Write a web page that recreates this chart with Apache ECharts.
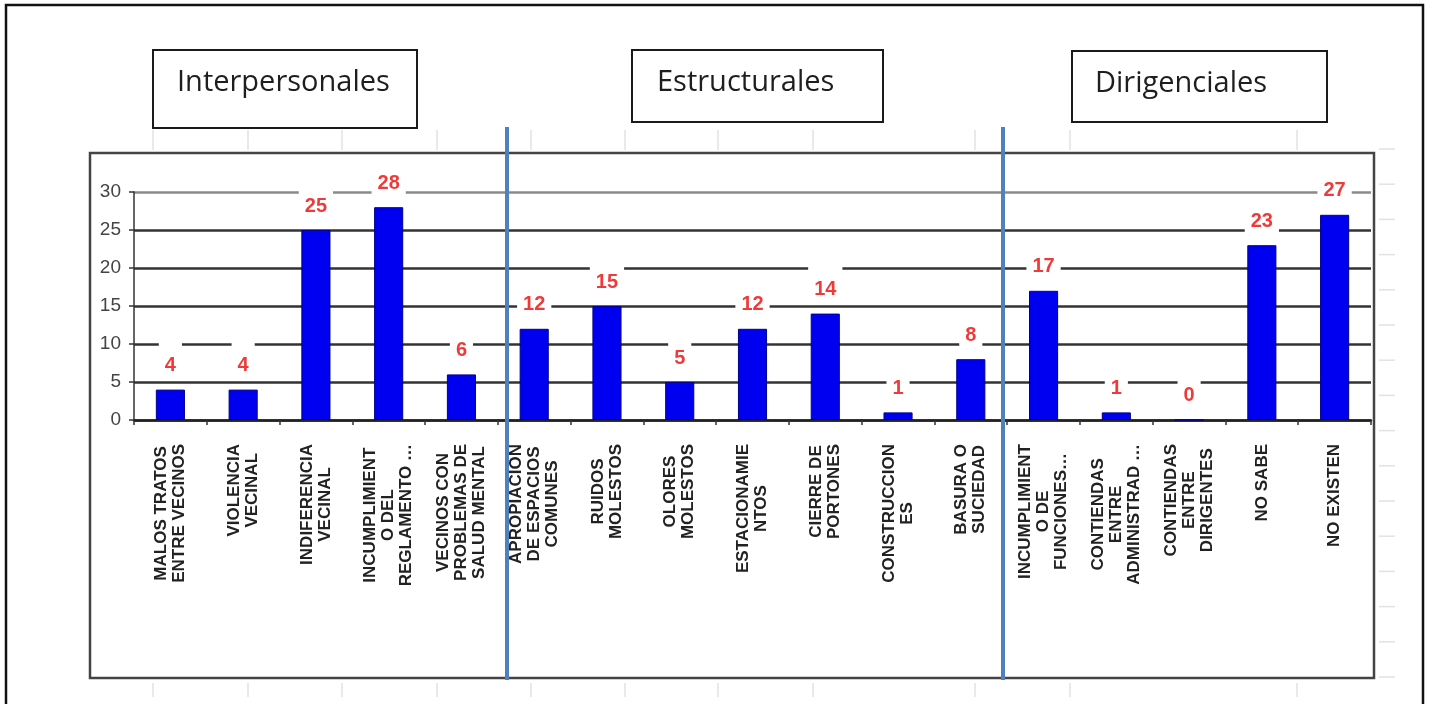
<!DOCTYPE html>
<html>
<head>
<meta charset="utf-8">
<script src="https://cdn.jsdelivr.net/npm/echarts@6.0.0/dist/echarts.min.js"></script>
<style>
  html, body { margin: 0; padding: 0; background: #ffffff; }
  #chart { width: 1429px; height: 704px; }
</style>
</head>
<body>
<div id="chart"></div>
<script>
// Conflict types, grouped in three families (5 + 7 + 5 categories)
const categories = [
  'MALOS TRATOS\nENTRE VECINOS',
  'VIOLENCIA\nVECINAL',
  'INDIFERENCIA\nVECINAL',
  'INCUMPLIMIENT\nO DEL\nREGLAMENTO …',
  'VECINOS CON\nPROBLEMAS DE\nSALUD MENTAL',
  'APROPIACION\nDE ESPACIOS\nCOMUNES',
  'RUIDOS\nMOLESTOS',
  'OLORES\nMOLESTOS',
  'ESTACIONAMIE\nNTOS',
  'CIERRE DE\nPORTONES',
  'CONSTRUCCION\nES',
  'BASURA O\nSUCIEDAD',
  'INCUMPLIMIENT\nO DE\nFUNCIONES…',
  'CONTIENDAS\nENTRE\nADMINISTRAD …',
  'CONTIENDAS\nENTRE\nDIRIGENTES',
  'NO SABE',
  'NO EXISTEN'
];

// Number of mentions for each conflict type
const counts = [4, 4, 25, 28, 6, 12, 15, 5, 12, 14, 1, 8, 17, 1, 0, 23, 27];

// Value axis range
const yMin = 0;
const yMax = 30;
const yStep = 5;

// Family headings shown above the plot
const groupTitles = ['Interpersonales', 'Estructurales', 'Dirigenciales'];

const chart = echarts.init(document.getElementById('chart'), null, { renderer: 'canvas' });

const labelFont = "'Liberation Sans', Arial, sans-serif";
const narrowFont = "'Liberation Sans Narrow', 'Arial Narrow', 'Liberation Sans', Arial, sans-serif";
const titleFont = "'Open Sans', 'Noto Sans', sans-serif";

// Heading boxes
const titleBoxes = [
  { x: 153, y: 50, w: 264, h: 78, tx: 177 },
  { x: 632, y: 50, w: 251, h: 72, tx: 657 },
  { x: 1072, y: 51, w: 255, h: 71, tx: 1095 }
];

const graphics = [];

// Outer page frame
graphics.push({
  type: 'rect', z: 50,
  shape: { x: 6, y: 5, width: 1417, height: 720 },
  style: { fill: 'none', stroke: '#111', lineWidth: 2.5 }
});

// Chart frame
graphics.push({
  type: 'rect', z: 50,
  shape: { x: 90, y: 153, width: 1284, height: 525 },
  style: { fill: 'none', stroke: '#444', lineWidth: 2.5 }
});

// Faint layout ticks around the chart frame
[153, 248, 342, 437, 531, 625, 718, 813, 975, 1070, 1297].forEach(function (x) {
  graphics.push({ type: 'line', z: 1, shape: { x1: x, y1: 130, x2: x, y2: 150 },
    style: { stroke: '#e2e2e2', lineWidth: 1.5 } });
  graphics.push({ type: 'line', z: 1, shape: { x1: x, y1: 683, x2: x, y2: 697 },
    style: { stroke: '#e2e2e2', lineWidth: 1.5 } });
});
for (let y = 149; y <= 680; y += 35.2) {
  graphics.push({ type: 'line', z: 1, shape: { x1: 1379, y1: y, x2: 1395, y2: y },
    style: { stroke: '#e2e2e2', lineWidth: 1.5 } });
}

// Blue separators between families
[507, 1003].forEach(function (x) {
  graphics.push({
    type: 'line', z: 60,
    shape: { x1: x, y1: 127, x2: x, y2: 680 },
    style: { stroke: '#4f81bd', lineWidth: 4 }
  });
});

titleBoxes.forEach(function (b, i) {
  graphics.push({
    type: 'rect', z: 55,
    shape: { x: b.x, y: b.y, width: b.w, height: b.h },
    style: { fill: '#ffffff', stroke: '#1a1a1a', lineWidth: 2 }
  });
  graphics.push({
    type: 'text', z: 56,
    x: b.tx, y: b.y + 33,
    style: {
      text: groupTitles[i],
      fill: '#1e1e1e',
      fontFamily: titleFont,
      fontSize: 29,
      align: 'left',
      verticalAlign: 'middle'
    }
  });
});

const gridLineColors = ['#333', '#333', '#333', '#333', '#333', '#333', '#8a8a8a'];

chart.setOption({
  animation: false,
  backgroundColor: '#ffffff',
  grid: { left: 134, right: 58, top: 192, bottom: 284, containLabel: false },
  xAxis: {
    type: 'category',
    data: categories,
    axisLine: { show: true, lineStyle: { color: '#222', width: 2.5 } },
    axisTick: { show: true, length: 5, lineStyle: { color: '#333', width: 1.5 } },
    axisLabel: {
      interval: 0,
      rotate: 90,
      margin: 24,
      hideOverlap: false,
      formatter: function (v) {
        return v.split('\n').map(function (s) { return '{c|' + s + '}'; }).join('\n');
      },
      rich: {
        c: {
          align: 'center',
          fontFamily: labelFont,
          fontWeight: 'bold',
          fontSize: 17,
          lineHeight: 18,
          color: '#222'
        }
      }
    },
    splitLine: { show: false }
  },
  yAxis: {
    type: 'value',
    min: yMin,
    max: yMax,
    interval: yStep,
    axisLine: { show: true, lineStyle: { color: '#333', width: 1.5 } },
    axisTick: { show: true, length: 5, lineStyle: { color: '#333', width: 1.5 } },
    axisLabel: {
      margin: 13,
      color: '#444',
      fontFamily: narrowFont,
      fontSize: 19
    },
    splitLine: { show: true, lineStyle: { color: gridLineColors, width: 2.5 } }
  },
  series: [{
    type: 'bar',
    data: counts,
    barWidth: '40%',
    itemStyle: { color: '#0000f0', borderColor: '#00008a', borderWidth: 1 },
    label: {
      show: true,
      position: 'top',
      distance: 10,
      color: '#f03a3a',
      fontFamily: narrowFont,
      fontWeight: 'bold',
      fontSize: 20,
      lineHeight: 20,
      backgroundColor: '#ffffff',
      padding: [14, 6, 4, 6]
    }
  }],
  graphic: graphics
});
</script>
</body>
</html>
